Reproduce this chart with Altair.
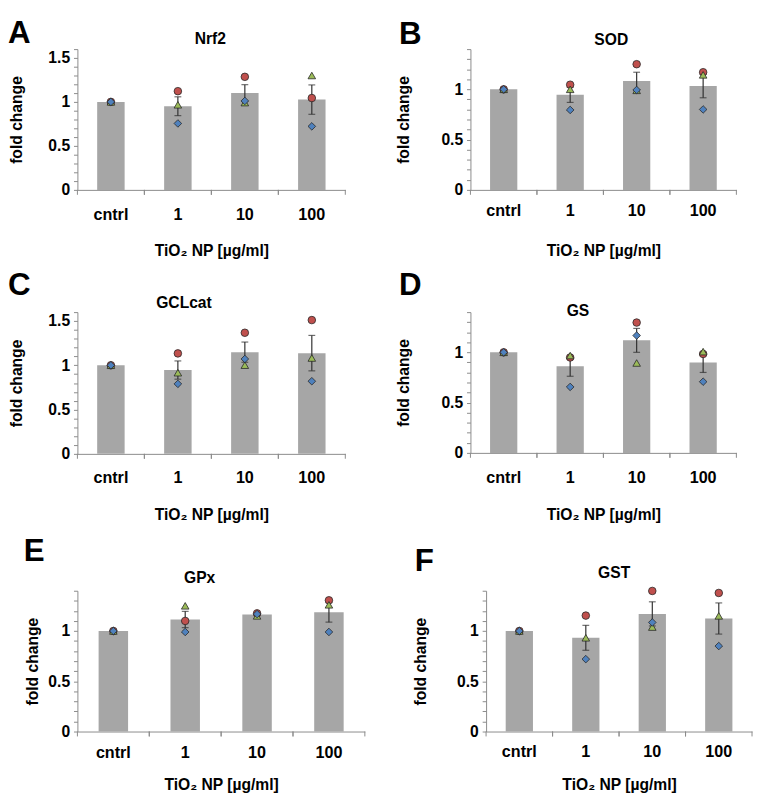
import altair as alt
import pandas as pd

# ---------------- data ----------------
categories = ["cntrl", "1", "10", "100"]
genes = ["Nrf2", "SOD", "GCLcat", "GS", "GPx", "GST"]
letters = ["A", "B", "C", "D", "E", "F"]
y_max = [1.6, 1.4, 1.6, 1.4, 1.4, 1.4]
x_title = "TiO₂ NP [µg/ml]"
y_title = "fold change"

nrf2_mean = [1.0, 0.951, 1.10, 1.026]
nrf2_sem = [0.0, 0.107, 0.096, 0.167]
nrf2_circle = [1.0, 1.122, 1.285, 1.044]
nrf2_triangle = [1.0, 0.967, 0.992, 1.30]
nrf2_diamond = [1.0, 0.755, 1.011, 0.722]

sod_mean = [1.0, 0.945, 1.082, 1.033]
sod_sem = [0.0, 0.075, 0.088, 0.117]
sod_circle = [1.0, 1.046, 1.25, 1.17]
sod_triangle = [1.0, 1.0, 0.99, 1.144]
sod_diamond = [1.0, 0.795, 0.994, 0.80]

gclcat_mean = [1.0, 0.946, 1.148, 1.137]
gclcat_sem = [0.0, 0.103, 0.114, 0.20]
gclcat_circle = [1.0, 1.134, 1.367, 1.51]
gclcat_triangle = [1.0, 0.916, 1.001, 1.082]
gclcat_diamond = [1.0, 0.79, 1.071, 0.82]

gs_mean = [1.0, 0.862, 1.119, 0.90]
gs_sem = [0.0, 0.10, 0.119, 0.10]
gs_circle = [1.0, 0.949, 1.296, 0.984]
gs_triangle = [1.0, 0.968, 0.894, 1.007]
gs_diamond = [1.0, 0.656, 1.167, 0.708]

gpx_mean = [1.0, 1.114, 1.163, 1.185]
gpx_sem = [0.0, 0.081, 0.01, 0.097]
gpx_circle = [1.0, 1.10, 1.175, 1.305]
gpx_triangle = [1.0, 1.25, 1.15, 1.26]
gpx_diamond = [1.0, 0.99, 1.168, 0.99]

gst_mean = [1.0, 0.932, 1.17, 1.124]
gst_sem = [0.0, 0.124, 0.12, 0.155]
gst_circle = [1.0, 1.153, 1.398, 1.378]
gst_triangle = [1.0, 0.932, 1.039, 1.15]
gst_diamond = [1.0, 0.72, 1.085, 0.85]

# ---------------- style / layout ----------------
FONT = "Liberation Sans"
AXIS_GRAY = "#8a8a8a"
BAR_GRAY = "#a6a6a6"
ERR_COLOR = "#303030"
OUTLINE = "#262626"
RED = "#c0504d"
GREEN = "#9bbb59"
BLUE = "#4f81bd"
PAD_INNER = 0.59
PAD_OUTER = PAD_INNER / 2

X_LABEL_SIZE = 16.5
Y_LABEL_SIZE = 16
AXIS_TITLE_SIZE = 16
PANEL_TITLE_SIZE = 16
LETTER_SIZE = 32

# absolute page positions of each plot area and its texts
LAYOUT = [
    dict(px=79, py=40, W=274, H=144, side="L", row=0, letter=(8, 8.3), title=(215, 29.7), ytitle=17, xlab=25.4, xtit=60.7),
    dict(px=481, py=39, W=272, H=144, side="R", row=0, letter=(408, 8.3), title=(625, 29.3), ytitle=413, xlab=21.0, xtit=61.3),
    dict(px=79, py=308, W=274, H=145, side="L", row=1, letter=(8, 265.8), title=(188, 298.3), ytitle=17, xlab=24.0, xtit=60.6),
    dict(px=481, py=308, W=272, H=144, side="R", row=1, letter=(408, 265.8), title=(591, 307.0), ytitle=413, xlab=25.6, xtit=62.3),
    dict(px=63, py=593, W=294, H=144, side="L", row=2, letter=(8, 537.8), title=(188, 580.0), ytitle=17, xlab=21.6, xtit=60.0),
    dict(px=481, py=593, W=272, H=144, side="R", row=2, letter=(408, 547.8), title=(612, 575.0), ytitle=414, xlab=20.7, xtit=57.0),
]
ROWS = [(8, 258), (258, 527), (527, None)]
LEFT_EDGE = 8
LEFT_RIGHT_EDGE = 360
RIGHT_LEFT_EDGE = 404
PAGE_BOTTOM = 799

one_row = pd.DataFrame({"k": [0]})


def txt(text, x, y, **kw):
    return alt.Chart(one_row).mark_text(text=text, font=FONT, **kw).encode(
        x=alt.value(x), y=alt.value(y)
    )


def build(i, mean, sem, circ, tri, dia):
    L = LAYOUT[i]
    W, H, px, py = L["W"], L["H"], L["px"], L["py"]
    ymax = y_max[i]
    df = pd.DataFrame({
        "cat": categories,
        "mean": mean,
        "lo": [m - s for m, s in zip(mean, sem)],
        "hi": [m + s for m, s in zip(mean, sem)],
        "circle": circ,
        "triangle": tri,
        "diamond": dia,
    })

    x_label_pad = L["xlab"] - 7.8
    x_title_y = min(L["xtit"] - 6.9, PAGE_BOTTOM - (py + H) - 16)
    y_title_x = L["ytitle"] - px + 8

    xscale = alt.Scale(paddingInner=PAD_INNER, paddingOuter=PAD_OUTER)
    xaxis = alt.Axis(
        title=x_title, labelAngle=0, ticks=False, tickSize=0,
        labelPadding=x_label_pad, titleY=x_title_y,
        labelFontSize=X_LABEL_SIZE, titleFontSize=AXIS_TITLE_SIZE,
    )
    x = alt.X("cat:N", sort=categories, scale=xscale, axis=xaxis)

    n = int(round(ymax * 10))
    tick_vals = [round(k * 0.1, 1) for k in range(n + 1)]
    yaxis = alt.Axis(
        title=y_title, values=tick_vals,
        labelExpr="abs(datum.value*2 - round(datum.value*2)) < 0.001 ? format(datum.value, '~g') : ''",
        labelOverlap=False, tickSize=4, labelPadding=4,
        titleX=y_title_x, titleY=H / 2, titleAlign="center", titleBaseline="bottom",
        labelFontSize=Y_LABEL_SIZE, titleFontSize=AXIS_TITLE_SIZE,
    )
    yscale = alt.Scale(domain=[0, ymax], nice=False, zero=True)

    def Y(f):
        return alt.Y(f"{f}:Q", scale=yscale, axis=yaxis)

    base = alt.Chart(df)
    bars = base.mark_bar(color=BAR_GRAY).encode(x=x, y=Y("mean"))

    # category-boundary ticks below the x axis (midway in the gaps between bars)
    half_gap = PAD_OUTER * W / len(categories)

    def boundary(bp, off):
        return base.mark_rule(color=AXIS_GRAY, strokeWidth=1, xOffset=off).encode(
            x=alt.X("cat:N", sort=categories, scale=xscale, axis=xaxis, bandPosition=bp),
            y=alt.value(H), y2=alt.value(H + 5),
        )
    ticks_right = boundary(1, half_gap)
    ticks_left = boundary(0, -half_gap)

    err = base.mark_rule(color=ERR_COLOR, strokeWidth=1.2).encode(x=x, y=Y("lo"), y2="hi")
    cap_lo = base.mark_tick(color=ERR_COLOR, size=7, thickness=1.2).encode(x=x, y=Y("lo"))
    cap_hi = base.mark_tick(color=ERR_COLOR, size=7, thickness=1.2).encode(x=x, y=Y("hi"))
    pts = []
    for field, shape, col in [("circle", "circle", RED), ("triangle", "triangle-up", GREEN), ("diamond", "diamond", BLUE)]:
        pts.append(base.mark_point(shape=shape, filled=True, size=60, color=col, stroke=OUTLINE,
                                   strokeWidth=0.8, opacity=1).encode(x=x, y=Y(field)))

    lx, ly = L["letter"]
    tx, ty = L["title"]
    letter = txt(letters[i], lx - px, ly - py, align="left", baseline="top",
                 fontSize=LETTER_SIZE, fontWeight="bold", color="black")
    title = txt(genes[i], tx - px, ty - py, align="center", baseline="middle",
                fontSize=PANEL_TITLE_SIZE, fontWeight="bold", color="black")

    row_top, row_bottom = ROWS[L["row"]]
    left = (LEFT_EDGE if L["side"] == "L" else RIGHT_LEFT_EDGE) - px
    anchors = [txt(".", left, row_top - py, align="left", baseline="top", fontSize=1, opacity=0)]
    if row_bottom is not None:
        anchors.append(txt(".", left, row_bottom - py, align="left", baseline="bottom", fontSize=1, opacity=0))
    if L["side"] == "L":
        anchors.append(txt(".", LEFT_RIGHT_EDGE - px, row_top - py, align="right", baseline="top", fontSize=1, opacity=0))

    return alt.layer(bars, ticks_left, ticks_right, err, cap_lo, cap_hi, *pts, title, letter,
                     *anchors).properties(width=W, height=H)


panels = [
    build(0, nrf2_mean, nrf2_sem, nrf2_circle, nrf2_triangle, nrf2_diamond),
    build(1, sod_mean, sod_sem, sod_circle, sod_triangle, sod_diamond),
    build(2, gclcat_mean, gclcat_sem, gclcat_circle, gclcat_triangle, gclcat_diamond),
    build(3, gs_mean, gs_sem, gs_circle, gs_triangle, gs_diamond),
    build(4, gpx_mean, gpx_sem, gpx_circle, gpx_triangle, gpx_diamond),
    build(5, gst_mean, gst_sem, gst_circle, gst_triangle, gst_diamond),
]

rows = [alt.hconcat(panels[2 * r], panels[2 * r + 1], spacing=RIGHT_LEFT_EDGE - LEFT_RIGHT_EDGE)
        for r in range(3)]

chart = (
    alt.vconcat(*rows, spacing=0)
    .properties(padding=0, background="white")
    .configure_view(stroke=None)
    .configure_axis(
        labelFont=FONT, titleFont=FONT, labelFontWeight="bold", titleFontWeight="bold",
        labelColor="black", titleColor="black", domainColor=AXIS_GRAY, tickColor=AXIS_GRAY,
        domainWidth=1, tickWidth=1, grid=False,
    )
)

chart.save("out.html", embed_options={"renderer": "svg", "actions": False})
